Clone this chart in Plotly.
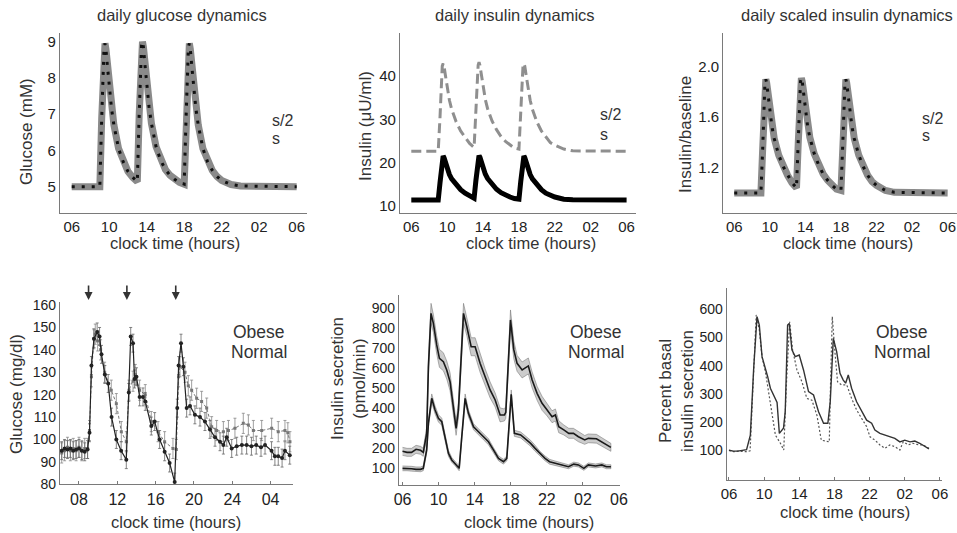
import plotly.graph_objects as go

W, H = 957, 533
FONT = "Liberation Sans, Arial, Helvetica, sans-serif"


def px(x):
    return x / W


def py(y):
    return 1 - y / H


# ---------------- DATA ----------------
# model time grid (hours from midnight, 30 = 06 next day)
model_t = [6.0, 9.0, 9.2, 9.35, 9.45, 9.55, 9.65, 9.8, 10.0, 10.25, 10.5, 11.0, 11.5, 12.0, 12.5, 13.0,
           13.2, 13.35, 13.45, 13.55, 13.65, 13.8, 14.0, 14.25, 14.5, 15.0, 15.5, 16.0, 16.5, 17.0, 17.5, 18.0,
           18.2, 18.35, 18.45, 18.55, 18.65, 18.8, 19.0, 19.25, 19.5, 20.0, 20.5, 21.0, 21.5, 22.0, 23.0, 24.0, 30.0]
model_glucose = [5.0, 5.0, 6.9, 8.3, 8.85, 8.95, 8.8, 8.35, 7.75, 7.15, 6.7, 6.05, 5.68, 5.42, 5.26, 5.14,
                 7.0, 8.4, 8.9, 9.0, 8.85, 8.4, 7.8, 7.2, 6.75, 6.1, 5.72, 5.47, 5.31, 5.2, 5.12, 5.07,
                 6.9, 8.3, 8.85, 8.95, 8.8, 8.35, 7.75, 7.15, 6.7, 6.05, 5.68, 5.45, 5.28, 5.17, 5.06, 5.02, 5.0]
model_insulin_s = [11.3, 11.3, 15.3, 19.2, 21.1, 21.5, 21.1, 20.1, 18.5, 17.2, 16.2, 14.7, 13.7, 12.9, 12.2, 11.75,
                   15.8, 19.5, 21.2, 21.6, 21.2, 20.2, 18.6, 17.3, 16.3, 14.8, 13.8, 13.0, 12.4, 12.0, 11.65, 11.5,
                   15.6, 19.4, 21.1, 21.5, 21.1, 20.1, 18.5, 17.2, 16.2, 14.7, 13.7, 12.9, 12.3, 12.0, 11.5, 11.35, 11.3]
model_insulin_s2 = [22.6, 22.6, 30.5, 38.4, 42.3, 42.9, 42.3, 40.2, 37.1, 34.4, 32.3, 29.4, 27.3, 25.8, 24.4, 23.5,
                    31.6, 39.1, 42.5, 43.2, 42.5, 40.5, 37.3, 34.6, 32.5, 29.6, 27.6, 26.0, 24.9, 24.0, 23.3, 23.1,
                    31.2, 38.9, 42.3, 42.9, 42.3, 40.2, 37.1, 34.4, 32.3, 29.4, 27.3, 25.8, 24.6, 24.0, 23.1, 22.7, 22.6]
model_scaled = [1.0, 1.0, 1.35, 1.7, 1.87, 1.9, 1.87, 1.78, 1.64, 1.52, 1.43, 1.3, 1.21, 1.14, 1.08, 1.04,
                1.4, 1.73, 1.88, 1.91, 1.88, 1.79, 1.65, 1.53, 1.44, 1.31, 1.22, 1.15, 1.1, 1.06, 1.03, 1.02,
                1.38, 1.72, 1.87, 1.9, 1.87, 1.78, 1.64, 1.52, 1.43, 1.3, 1.21, 1.14, 1.09, 1.06, 1.02, 1.005, 1.0]

# measured glucose (mg/dl)
glu_normal_t = [6.2, 6.5, 6.8, 7.1, 7.4, 7.7, 8.0, 8.3, 8.6, 8.9, 9.1, 9.3, 9.57, 9.9, 10.15, 10.35, 10.7, 11.05,
                11.4, 11.9, 12.4, 12.94, 13.2, 13.4, 13.64, 13.8, 14.0, 14.33, 14.68, 14.92, 15.55, 15.9, 16.42,
                16.94, 17.46, 17.99, 18.26, 18.4, 18.65, 18.9, 19.24, 19.59, 20.1, 20.63, 21.15, 21.67, 22.2,
                22.72, 23.07, 23.42, 23.94, 24.46, 25.0, 25.5, 26.0, 26.5, 27.0, 27.42, 28.1, 28.45, 28.8, 29.2,
                29.5, 30.0]
glu_normal_v = [95, 96, 95.5, 96, 95, 95.5, 96, 95, 94.5, 95.5, 103, 133, 145, 148, 146, 138, 129, 125, 110, 100,
                95, 91, 121, 146, 143, 127, 128, 119, 119, 117, 106, 108, 100, 94.5, 89.5, 81, 114, 133, 143,
                132.5, 114, 115, 111, 110, 108, 104.5, 101, 99, 97.5, 101, 96, 97, 97.5, 97.5, 97, 97.5, 96.5,
                97.5, 95, 92.5, 92.5, 91.7, 95, 93]
glu_obese_t = [6.2, 6.5, 6.8, 7.1, 7.4, 7.7, 8.0, 8.3, 8.6, 8.9, 9.1, 9.3, 9.55, 9.7, 9.95, 10.26, 10.68, 11.37,
               11.9, 12.42, 12.94, 13.22, 13.64, 13.88, 14.33, 14.92, 15.55, 16.25, 16.94, 17.81, 18.16, 18.4,
               18.54, 19.07, 19.41, 19.76, 20.28, 20.8, 21.33, 21.85, 22.37, 23.07, 23.6, 24.28, 25.15, 25.68,
               26.2, 27.07, 28.11, 28.8, 29.5, 29.8, 30.02]
glu_obese_v = [94, 95, 96.5, 95, 96, 95, 96.5, 95, 96, 96, 104, 128, 145, 147, 144, 140, 130, 122, 116, 103.5, 99,
               122, 126, 129, 122, 120, 108, 103.5, 99, 96, 95.5, 128, 132.5, 130, 124, 122, 118.4, 117, 114,
               105.7, 104, 103.5, 104, 105, 107.2, 106.5, 104, 104, 105, 103.5, 104, 103, 99]
meal_times = [9.0, 13.0, 18.1]

# measured insulin secretion (pmol/min)
isr_obese_t = [6.0, 6.5, 7.0, 7.5, 8.0, 8.3, 8.68, 8.87, 9.16, 9.42, 9.79, 10.09, 10.53, 10.9, 11.27, 11.64,
               11.94, 12.2, 12.5, 12.76, 13.13, 13.61, 14.05, 14.6, 15.16, 15.71, 16.27, 16.82, 17.3, 17.45,
               17.97, 18.34, 18.7, 19.26, 19.95, 20.37, 20.92, 21.47, 22.03, 22.58, 22.95, 23.32, 23.88, 24.43,
               24.95, 25.5, 26.2, 26.6, 27.5, 28.1, 28.6, 29.1]
isr_obese_v = [185, 180, 180, 195, 190, 180, 275, 608, 875, 825, 717, 650, 633, 592, 533, 408, 300, 392, 658,
               875, 808, 708, 708, 625, 558, 492, 442, 367, 367, 380, 842, 692, 625, 592, 612, 542, 475, 425,
               392, 358, 367, 308, 292, 275, 275, 258, 242, 250, 248, 233, 217, 205]
isr_obese_err = [20, 20, 20, 20, 20, 20, 30, 40, 50, 45, 45, 45, 45, 45, 45, 45, 35, 40, 45, 50, 45, 45, 45, 45,
                 40, 40, 35, 35, 30, 30, 50, 45, 40, 40, 40, 40, 35, 35, 30, 30, 30, 30, 25, 25, 25, 25, 22,
                 22, 22, 20, 20, 20]
isr_normal_t = [6.0, 6.5, 7.0, 7.5, 8.0, 8.3, 8.68, 8.87, 9.24, 9.61, 9.98, 10.35, 10.72, 11.09, 11.46, 11.83,
                12.28, 12.57, 12.94, 13.31, 13.87, 14.42, 14.97, 15.53, 16.08, 16.64, 17.19, 17.56, 18.05, 18.4,
                19.1, 19.6, 20.2, 20.7, 21.2, 21.8, 22.3, 22.9, 23.6, 24.4, 24.99, 25.5, 26.1, 26.6, 27.4, 28.1,
                28.6, 29.1]
isr_normal_v = [100, 100, 98, 95, 95, 100, 192, 325, 450, 392, 350, 333, 258, 175, 142, 125, 100, 258, 450, 375,
                308, 283, 258, 233, 192, 150, 133, 150, 470, 275, 267, 250, 225, 200, 175, 150, 133, 125, 117,
                108, 121, 117, 100, 117, 112, 117, 108, 108]
isr_normal_err = [12, 12, 12, 12, 12, 12, 15, 18, 22, 20, 18, 18, 15, 15, 12, 12, 12, 15, 22, 18, 15, 15, 15, 15,
                  12, 12, 12, 12, 22, 15, 15, 15, 15, 15, 12, 12, 12, 12, 10, 10, 10, 10, 10, 10, 10, 10, 10, 10]

# percent basal insulin secretion
pct_solid_t = [6.0, 6.5, 7.0, 7.5, 8.0, 8.43, 8.81, 9.19, 9.45, 9.76, 10.06, 10.4, 10.71, 11.09, 11.47, 11.73,
               12.2, 12.4, 12.67, 12.86, 13.16, 13.54, 13.99, 14.48, 15.05, 15.62, 16.19, 16.76, 17.25, 17.52,
               17.87, 18.25, 18.63, 19.0, 19.27, 19.57, 19.95, 20.52, 21.09, 21.66, 22.23, 22.6, 23.17, 23.74,
               24.3, 24.87, 25.44, 26.0, 26.6, 27.14, 27.7, 28.3, 28.75]
pct_solid_v = [100, 97, 97, 100, 102, 154, 391, 574, 544, 432, 402, 361, 320, 296, 270, 160, 178, 237, 544, 550,
               456, 432, 438, 385, 308, 296, 237, 196, 196, 272, 497, 450, 373, 349, 338, 367, 320, 272, 237,
               207, 196, 172, 160, 154, 148, 142, 130, 136, 130, 133, 125, 113, 105]
pct_dot_t = [6.0, 6.5, 7.0, 7.5, 8.0, 8.4, 8.81, 9.1, 9.45, 9.76, 10.14, 10.52, 10.9, 11.28, 11.85, 12.23, 12.53,
             12.9, 13.24, 13.73, 14.3, 14.86, 15.43, 16.0, 16.5, 17.14, 17.41, 17.55, 17.75, 18.05, 18.35, 18.8,
             19.4, 19.95, 20.52, 21.1, 21.66, 22.04, 22.6, 23.17, 23.74, 24.3, 24.87, 25.44, 25.82, 26.4, 26.9,
             27.5, 28.1, 28.75]
pct_dot_v = [100, 95, 97, 95, 95, 98, 350, 580, 527, 432, 379, 308, 237, 154, 125, 101, 332, 556, 456, 385, 343,
             284, 278, 225, 136, 130, 130, 332, 574, 450, 343, 332, 332, 284, 243, 213, 184, 148, 136, 119, 107,
             119, 113, 101, 130, 119, 125, 120, 119, 107]

tick_hours = [6, 10, 14, 18, 22, 26, 30]
tick_text = ["06", "10", "14", "18", "22", "02", "06"]
tick_hours_glu = [8, 12, 16, 20, 24, 28]
tick_text_glu = ["08", "12", "16", "20", "24", "04"]

# ---------------- FIGURE ----------------
fig = go.Figure()

# panel 1: model glucose
fig.add_trace(go.Scatter(x=model_t, y=model_glucose, mode="lines", xaxis="x", yaxis="y",
                         line=dict(color="#8a8a8a", width=7)))
fig.add_trace(go.Scatter(x=model_t, y=model_glucose, mode="lines", xaxis="x", yaxis="y",
                         line=dict(color="#111", width=3, dash="3px,7px")))
# panel 2: model insulin
fig.add_trace(go.Scatter(x=model_t, y=model_insulin_s2, mode="lines", xaxis="x2", yaxis="y2",
                         line=dict(color="#8f8f8f", width=3, dash="10px,5px")))
fig.add_trace(go.Scatter(x=model_t, y=model_insulin_s, mode="lines", xaxis="x2", yaxis="y2",
                         line=dict(color="#000", width=5)))
# panel 3: scaled insulin
fig.add_trace(go.Scatter(x=model_t, y=model_scaled, mode="lines", xaxis="x3", yaxis="y3",
                         line=dict(color="#8a8a8a", width=7)))
fig.add_trace(go.Scatter(x=model_t, y=model_scaled, mode="lines", xaxis="x3", yaxis="y3",
                         line=dict(color="#111", width=3, dash="3px,7px")))

# panel 4: glucose data
fig.add_trace(go.Scatter(x=glu_obese_t, y=glu_obese_v, mode="lines+markers", xaxis="x4", yaxis="y4",
                         line=dict(color="#777", width=1, dash="3px,2px"),
                         marker=dict(size=3, color="#777", symbol="square"),
                         error_y=dict(type="constant", value=4.5, color="#888", thickness=0.8, width=1.5)))
fig.add_trace(go.Scatter(x=glu_normal_t, y=glu_normal_v, mode="lines+markers", xaxis="x4", yaxis="y4",
                         line=dict(color="#222", width=1.2),
                         marker=dict(size=4, color="#222"),
                         error_y=dict(type="constant", value=4, color="#666", thickness=0.8, width=1.5)))

# panel 5: insulin secretion bands
for t, v, e in [(isr_obese_t, isr_obese_v, isr_obese_err), (isr_normal_t, isr_normal_v, isr_normal_err)]:
    upper = [a + b for a, b in zip(v, e)]
    lower = [a - b for a, b in zip(v, e)]
    fig.add_trace(go.Scatter(x=t + t[::-1], y=upper + lower[::-1], mode="lines", xaxis="x5", yaxis="y5",
                             fill="toself", fillcolor="rgba(120,120,120,0.38)",
                             line=dict(color="rgba(90,90,90,0.55)", width=0.8)))
    fig.add_trace(go.Scatter(x=t, y=v, mode="lines", xaxis="x5", yaxis="y5",
                             line=dict(color="#1a1a1a", width=1.6)))

# panel 6: percent basal
fig.add_trace(go.Scatter(x=pct_dot_t, y=pct_dot_v, mode="lines", xaxis="x6", yaxis="y6",
                         line=dict(color="#555", width=1.2, dash="2px,2px")))
fig.add_trace(go.Scatter(x=pct_solid_t, y=pct_solid_v, mode="lines", xaxis="x6", yaxis="y6",
                         line=dict(color="#333", width=1.4)))


def xa(domain, rng, anchor, tv, tt, size=15, ticks=""):
    return dict(domain=domain, range=rng, anchor=anchor, tickvals=tv, ticktext=tt,
                showgrid=False, zeroline=False, showline=True, linecolor="#7a7a7a", linewidth=1.2,
                ticks=ticks, ticklen=3, tickcolor="#7a7a7a", automargin=False,
                ticklabeloverflow="allow",
                tickfont=dict(family=FONT, size=size, color="#222"))


def ya(domain, rng, anchor, tv, size=15, tt=None):
    d = dict(domain=domain, range=rng, anchor=anchor, tickvals=tv,
             showgrid=False, zeroline=False, showline=True, linecolor="#7a7a7a", linewidth=1.2,
             ticks="", automargin=False, tickfont=dict(family=FONT, size=size, color="#222"))
    if tt is not None:
        d["ticktext"] = tt
    return d


top_dom = [py(213.3), py(33.3)]
fig.update_layout(
    width=W, height=H, margin=dict(l=0, r=0, t=0, b=0, pad=0, autoexpand=False),
    paper_bgcolor="white", plot_bgcolor="white", showlegend=False,
    font=dict(family=FONT, color="#222"),
    xaxis=xa([px(60), px(306.7)], [4.75, 31.07], "y", tick_hours, tick_text),
    yaxis=ya(top_dom, [4.266, 9.23], "x", [5, 6, 7, 8, 9]),
    xaxis2=xa([px(400), px(636.2)], [4.74, 31.07], "y2", tick_hours, tick_text),
    yaxis2=ya(top_dom, [8.24, 49.9], "x2", [10, 20, 30, 40]),
    xaxis3=xa([px(723.3), 1.0], [4.77, 31.05], "y3", tick_hours, tick_text),
    yaxis3=ya(top_dom, [0.839, 2.264], "x3", [1.2, 1.6, 2.0], tt=["1.2", "1.6", "2.0"]),
    xaxis4=xa([px(60), px(293.3)], [6.02, 30.37], "y4", tick_hours_glu, tick_text_glu, size=16, ticks="inside"),
    yaxis4=ya([py(484.3), py(301.7)], [80, 161.5], "x4", [80, 90, 100, 110, 120, 130, 140, 150, 160], size=14),
    xaxis5=xa([px(399), px(620)], [5.61, 30.11], "y5", tick_hours, tick_text, size=16, ticks="inside"),
    yaxis5=ya([py(485), py(295)], [16.7, 966.7], "x5", [100, 200, 300, 400, 500, 600, 700, 800, 900], size=14),
    xaxis6=xa([px(726.7), px(941.7)], [5.74, 30.2], "y6", tick_hours, tick_text, size=15, ticks="inside"),
    yaxis6=ya([py(480), py(288.3)], [-5.3, 674.5], "x6", [100, 200, 300, 400, 500, 600], size=14),
)

ann = []


def text(x, y, s, size=16.5, angle=0, xanchor="center", color="#333"):
    ann.append(dict(x=px(x), y=py(y), xref="paper", yref="paper", text=s, showarrow=False,
                    textangle=angle, xanchor=xanchor, yanchor="middle",
                    font=dict(family=FONT, size=size, color=color)))


# titles
text(182, 15, "daily glucose dynamics")
text(515, 15, "daily insulin dynamics")
text(847, 15, "daily scaled insulin dynamics")
# x axis titles
for cx, cy in [(175, 243), (531, 243), (848, 243), (176, 522), (529, 522), (845, 512)]:
    text(cx, cy, "clock time (hours)", size=16.5)
# y axis titles
text(26, 132, "Glucose (mM)", size=17, angle=-90)
text(365, 126, "Insulin (μU/ml)", size=17, angle=-90)
text(685, 135, "Insulin/baseline", size=17, angle=-90)
text(16, 394, "Glucose (mg/dl)", size=17, angle=-90)
text(348, 379, "Insulin secretion<br>(pmol/min)", size=17, angle=-90)
text(676, 391, "Percent basal<br>insulin secretion", size=17, angle=-90)
# s/2, s labels
for x0, y1, y2 in [(270, 120, 138), (598, 115, 134), (920, 118, 135)]:
    text(x0, y1, "s/2", size=16, xanchor="left")
    text(x0, y2, "s", size=16, xanchor="left")
# Obese / Normal labels
for cx in [259, 596, 902]:
    text(cx, 332, "Obese", size=17.5)
    text(cx, 352, "Normal", size=17.5)
# meal arrows
for mt in meal_times:
    ann.append(dict(x=mt, y=py(300), xref="x4", yref="paper", ax=0, ay=-16, showarrow=True,
                    arrowhead=2, arrowsize=1, arrowwidth=1.6, arrowcolor="#333", text=""))

fig.update_layout(annotations=ann)
fig.write_html("out.html", config={"displayModeBar": False},
               post_script="document.body.style.margin='0';document.body.style.overflow='hidden';")
